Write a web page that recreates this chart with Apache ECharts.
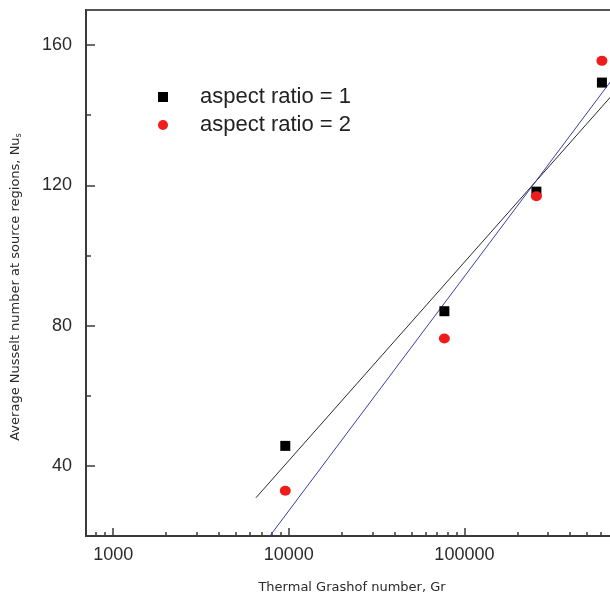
<!DOCTYPE html>
<html>
<head>
<meta charset="utf-8">
<script src="https://cdn.jsdelivr.net/npm/echarts@6/dist/echarts.min.js"></script>
<style>
  html, body { margin: 0; padding: 0; background: #fff; }
  #chart { width: 610px; height: 596px; }
</style>
</head>
<body>
<div id="chart"></div>
<script>
// ---- data ----
var grashof = [9550, 76900, 257000, 607000];
var nuAspect1 = [45.7, 84.1, 118.2, 149.3];
var nuAspect2 = [32.9, 76.3, 116.9, 155.5];
var fitAspect1X = [6500, 1000000];
var fitAspect1Y = [30.9, 154.7];
var fitAspect2X = [7800, 1000000];
var fitAspect2Y = [20, 160.8];
var xMajorTicks = [1000, 10000, 100000, 1000000];
var xTickLabels = [1000, 10000, 100000];
var xMinorTicks = [800, 900, 2000, 3000, 4000, 5000, 6000, 7000, 8000, 9000,
  20000, 30000, 40000, 50000, 60000, 70000, 80000, 90000,
  200000, 300000, 400000, 500000, 600000, 700000, 800000, 900000];
var yMajorTicks = [40, 80, 120, 160];
var yMinorTicks = [60, 100, 140];
var seriesNames = ['aspect ratio = 1', 'aspect ratio = 2'];

function pairs(xs, ys) { return xs.map(function (x, i) { return [x, ys[i]]; }); }

var axisColor = '#3a3a3a';
var textColor = '#2a2a2a';

var chart = echarts.init(document.getElementById('chart'), null, { renderer: 'canvas' });
chart.setOption({
  backgroundColor: '#fff',
  animation: false,
  grid: {
    left: 86, top: 10, right: -30, bottom: 60,
    show: true, borderColor: '#555', borderWidth: 2,
    outerBoundsMode: 'none'
  },
  legend: {
    orient: 'vertical',
    left: 158, top: 86, padding: 0,
    itemWidth: 10, itemHeight: 10,
    itemGap: 6,
    data: seriesNames,
    textStyle: {
      fontFamily: 'Liberation Sans', fontSize: 22, color: '#222',
      lineHeight: 22, padding: [0, 0, 0, 27]
    }
  },
  xAxis: [{
    type: 'log', position: 'bottom',
    min: 700, max: 1000000,
    name: 'Thermal Grashof number, Gr',
    nameLocation: 'middle', nameGap: 45,
    nameTextStyle: { fontFamily: 'DejaVu Sans', fontSize: 13, color: textColor, padding: [0, 22, 0, 0] },
    axisLine: { show: true, onZero: false, lineStyle: { color: axisColor, width: 2 } },
    axisTick: { show: true, inside: true, length: 8, customValues: xMajorTicks, lineStyle: { color: axisColor, width: 1.5 } },
    axisLabel: {
      show: true, customValues: xTickLabels, margin: 10,
      fontFamily: 'Liberation Sans', fontSize: 18, color: textColor,
      formatter: function (v) { return String(Math.round(v)); }
    },
    splitLine: { show: false }, minorTick: { show: false }
  }, {
    type: 'log', position: 'top', offset: -526,
    min: 700, max: 1000000,
    axisLine: { show: false, onZero: false },
    axisTick: { show: true, inside: false, length: 4, customValues: xMinorTicks, lineStyle: { color: axisColor, width: 1.5 } },
    axisLabel: { show: false },
    splitLine: { show: false }
  }],
  yAxis: [{
    type: 'value', position: 'left',
    min: 20, max: 170,
    name: 'Average Nusselt number at source regions, Nu{s|s}',
    nameLocation: 'middle', nameGap: 63,
    nameTextStyle: {
      fontFamily: 'DejaVu Sans', fontSize: 13, color: textColor, padding: [0, 28, 0, 0],
      rich: { s: { fontFamily: 'DejaVu Sans', fontSize: 8, color: textColor, verticalAlign: 'bottom', padding: [6, 0, 0, 0] } }
    },
    axisLine: { show: true, onZero: false, lineStyle: { color: axisColor, width: 2 } },
    axisTick: { show: true, inside: true, length: 9, customValues: yMajorTicks, lineStyle: { color: axisColor, width: 1.5 } },
    axisLabel: { show: true, customValues: yMajorTicks, margin: 14, fontFamily: 'Liberation Sans', fontSize: 18, color: textColor },
    splitLine: { show: false }
  }, {
    type: 'value', position: 'right', offset: -554,
    min: 20, max: 170,
    axisLine: { show: false, onZero: false },
    axisTick: { show: true, inside: false, length: 5, customValues: yMinorTicks, lineStyle: { color: axisColor, width: 1.5 } },
    axisLabel: { show: false },
    splitLine: { show: false }
  }],
  series: [{
    type: 'line', name: 'fit1', xAxisIndex: 0, yAxisIndex: 0,
    data: pairs(fitAspect1X, fitAspect1Y),
    showSymbol: false, symbol: 'none', clip: true,
    lineStyle: { color: '#2a2a2a', width: 1 }, silent: true, z: 2
  }, {
    type: 'line', name: 'fit2', xAxisIndex: 0, yAxisIndex: 0,
    data: pairs(fitAspect2X, fitAspect2Y),
    showSymbol: false, symbol: 'none', clip: true,
    lineStyle: { color: '#3c3cab', width: 1 }, silent: true, z: 2
  }, {
    type: 'scatter', name: seriesNames[0], xAxisIndex: 0, yAxisIndex: 0,
    data: pairs(grashof, nuAspect1),
    symbol: 'rect', symbolSize: 10,
    itemStyle: { color: '#000', opacity: 1 }, z: 3
  }, {
    type: 'scatter', name: seriesNames[1], xAxisIndex: 0, yAxisIndex: 0,
    data: pairs(grashof, nuAspect2),
    symbol: 'circle', symbolSize: [11, 10],
    itemStyle: { color: '#ee1c1c', opacity: 1 }, z: 4
  }]
});
</script>
</body>
</html>
